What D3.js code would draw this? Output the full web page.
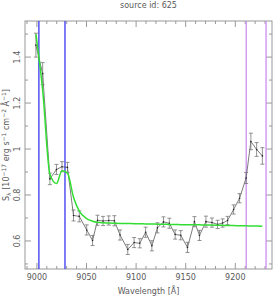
<!DOCTYPE html>
<html>
<head>
<meta charset="utf-8">
<script src="https://cdn.jsdelivr.net/npm/d3@7"></script>
<style>
  body { margin: 0; background: #fff; }
  text { font-family: "DejaVu Sans", sans-serif; fill: #5a5a5a; }
</style>
</head>
<body>
<script>
// small stand-in for d3-selection-multi's .attrs()
d3.selection.prototype.attrs = function (o) {
  for (let k in o) this.attr(k, o[k]);
  return this;
};

let w = 274;
let h = 297;
let margin = { top: 21, right: 2, bottom: 28, left: 25 };

// observed spectrum
let wave = [8999, 9005.8, 9013.1, 9019.7, 9025.3, 9030.8, 9036.9, 9042.7, 9050.2, 9056.1,
  9061.1, 9066.7, 9072.4, 9078.1, 9083.8, 9091.6, 9098, 9103.7, 9109.6, 9115.9,
  9121.5, 9127.6, 9133.5, 9139.4, 9145, 9151.8, 9158.8, 9163.9, 9170.4, 9176.5,
  9182.1, 9187.2, 9192.2, 9198.3, 9204.3, 9210.9, 9215.7, 9221.5, 9227.3];
let flux = [1.452, 1.328, 0.870, 0.911, 0.923, 0.920, 0.711, 0.707, 0.648, 0.602,
  0.690, 0.687, 0.689, 0.688, 0.626, 0.563, 0.593, 0.590, 0.638, 0.579,
  0.657, 0.683, 0.677, 0.628, 0.625, 0.572, 0.684, 0.624, 0.684, 0.680,
  0.672, 0.678, 0.689, 0.737, 0.786, 0.874, 1.033, 0.998, 0.970];
let err = [0.052, 0.048, 0.025, 0.022, 0.022, 0.022, 0.024, 0.024, 0.022, 0.022,
  0.022, 0.020, 0.020, 0.022, 0.022, 0.022, 0.022, 0.020, 0.022, 0.022,
  0.022, 0.022, 0.022, 0.020, 0.020, 0.022, 0.022, 0.022, 0.024, 0.020,
  0.018, 0.018, 0.018, 0.020, 0.020, 0.024, 0.036, 0.030, 0.036];
// model
let model = [1.500, 1.257, 0.890, 0.850, 0.905, 0.895, 0.790, 0.730, 0.697, 0.686,
  0.681, 0.679, 0.678, 0.677, 0.676, 0.676, 0.675, 0.675, 0.674, 0.674,
  0.673, 0.673, 0.672, 0.672, 0.671, 0.671, 0.670, 0.670, 0.669, 0.669,
  0.668, 0.668, 0.667, 0.667, 0.666, 0.666, 0.665, 0.665, 0.664];

let blueLines = [9002, 9028.3];
let violetLines = [9211, 9231];
let xTicks = [9000, 9050, 9100, 9150, 9200];
let yTicks = [0.6, 0.8, 1, 1.2, 1.4];

let svg = d3.select("body").append("svg").attr("width", w).attr("height", h);

let x = d3.scaleLinear().domain([8988, 9237]).range([margin.left, w - margin.right]);
let y = d3.scaleLinear().domain([0.478, 1.557]).range([h - margin.bottom, margin.top]);

let x0 = x.range()[0], x1 = x.range()[1], y0 = y.range()[0], y1 = y.range()[1];

// frame
svg.append("rect")
  .attrs({ x: x0, y: y1, width: x1 - x0, height: y0 - y1, fill: "none", stroke: "#999", "stroke-width": 1 });

// ticks (inward on all four sides)
let xMinor = d3.range(8990, 9237, 10);
let yMinor = d3.range(0.5, 1.56, 0.1);
let tickG = svg.append("g").attr("stroke", "#999").attr("stroke-width", 1);
xMinor.forEach(v => {
  let len = Math.round(v) % 50 === 0 ? 6 : 3;
  tickG.append("line").attrs({ x1: x(v), x2: x(v), y1: y0, y2: y0 - len });
  tickG.append("line").attrs({ x1: x(v), x2: x(v), y1: y1, y2: y1 + len });
});
yMinor.forEach(v => {
  let len = Math.round(v * 10) % 2 === 0 ? 6 : 3;
  tickG.append("line").attrs({ x1: x0, x2: x0 + len, y1: y(v), y2: y(v) });
  tickG.append("line").attrs({ x1: x1, x2: x1 - len, y1: y(v), y2: y(v) });
});

svg.selectAll(".xl").data(xTicks).enter().append("text")
  .text(d => d)
  .attrs({ x: d => x(d), y: y0 + 11, "text-anchor": "middle", "font-size": 8 });

svg.selectAll(".yl").data(yTicks).enter().append("text")
  .text(d => d3.format("~g")(d))
  .attrs({
    transform: d => `translate(${x0 - 5},${y(d)}) rotate(-90)`,
    "text-anchor": "middle",
    "font-size": 8
  });

// vertical marker lines
svg.selectAll(".blue").data(blueLines).enter().append("line")
  .attrs({ x1: d => x(d), x2: d => x(d), y1: y0, y2: y1, stroke: "#3737f0", "stroke-width": 1.3 });
svg.selectAll(".violet").data(violetLines).enter().append("line")
  .attrs({ x1: d => x(d), x2: d => x(d), y1: y0, y2: y1, stroke: "#cc8ef0", "stroke-width": 1.3 });

let pts = wave.map((d, i) => ({ w: d, f: flux[i], e: err[i], m: model[i] }));

// data line
svg.append("path").datum(pts)
  .attr("d", d3.line().x(d => x(d.w)).y(d => y(d.f)))
  .attrs({ fill: "none", stroke: "#444", "stroke-width": 0.7 });

// error bars
let eb = svg.append("g").attr("stroke", "#777").attr("stroke-width", 0.8);
pts.forEach(d => {
  let cx = x(d.w);
  eb.append("line").attrs({ x1: cx, x2: cx, y1: y(d.f - d.e), y2: y(d.f + d.e) });
  eb.append("line").attrs({ x1: cx - 2, x2: cx + 2, y1: y(d.f - d.e), y2: y(d.f - d.e) });
  eb.append("line").attrs({ x1: cx - 2, x2: cx + 2, y1: y(d.f + d.e), y2: y(d.f + d.e) });
});

svg.selectAll(".pt").data(pts).enter().append("circle")
  .attrs({ cx: d => x(d.w), cy: d => y(d.f), r: 0.8, fill: "#222" });

// model curve
svg.append("path").datum(pts)
  .attr("d", d3.line().curve(d3.curveMonotoneX).x(d => x(d.w)).y(d => y(d.m)))
  .attrs({ fill: "none", stroke: "#33dd33", "stroke-width": 1.5 });

// titles
svg.append("text").text("source id: 625")
  .attrs({ x: (x0 + x1) / 2, y: 8, "text-anchor": "middle", "font-size": 8 });

svg.append("text").text("Wavelength [Å]")
  .attrs({ x: (x0 + x1) / 2, y: 294, "text-anchor": "middle", "font-size": 8 });

let yl = svg.append("text")
  .attrs({ transform: `translate(9,${(y0 + y1) / 2}) rotate(-90)`, "text-anchor": "middle", "font-size": 8 });
yl.append("tspan").text("S");
yl.append("tspan").text("λ").attrs({ "font-size": 6, dy: 2 });
yl.append("tspan").text(" [10").attrs({ dy: -2 });
yl.append("tspan").text("−17").attrs({ "font-size": 6, dy: -3 });
yl.append("tspan").text(" erg s").attrs({ dy: 3 });
yl.append("tspan").text("−1").attrs({ "font-size": 6, dy: -3 });
yl.append("tspan").text(" cm").attrs({ dy: 3 });
yl.append("tspan").text("−2").attrs({ "font-size": 6, dy: -3 });
yl.append("tspan").text(" Å").attrs({ dy: 3 });
yl.append("tspan").text("−1").attrs({ "font-size": 6, dy: -3 });
yl.append("tspan").text("]").attrs({ dy: 3 });
</script>
</body>
</html>
